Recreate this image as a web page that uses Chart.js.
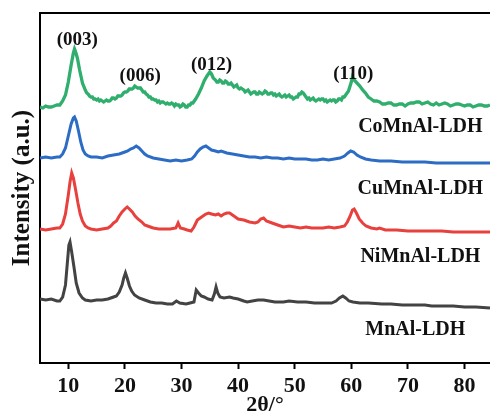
<!DOCTYPE html>
<html>
<head>
<meta charset="utf-8">
<script src="https://cdn.jsdelivr.net/npm/chart.js@4"></script>
<style>
  html, body { margin: 0; padding: 0; background: #ffffff; }
  #wrap { width: 490px; height: 417px; position: relative; }
</style>
</head>
<body>
<div id="wrap"><canvas id="c" width="490" height="417"></canvas></div>
<script>
// ---- Data (2θ in degrees, intensity in arbitrary offset units) ----
const xTicks = [10, 20, 30, 40, 50, 60, 70, 80];

const coTheta = [5,5.5,6,6.5,7,7.5,8,8.5,9,9.5,10,10.5,10.9,11.1,11.3,11.6,12,12.5,
  13,13.25,13.5,13.75,14,14.25,14.5,14.75,15,15.25,15.5,15.75,16,16.25,16.5,16.75,17,17.25,17.5,17.75,18,18.25,18.5,18.75,19,19.25,19.5,19.75,20,20.25,20.5,20.75,21,21.25,21.5,21.75,22,22.25,22.5,22.75,23,23.25,23.5,23.75,24,24.25,24.5,24.75,25,25.25,25.5,25.75,26,26.25,26.5,26.75,27,27.25,27.5,27.75,28,28.25,28.5,28.75,29,29.25,29.5,29.75,30,30.25,30.5,30.75,31,31.25,31.5,31.75,32,
  32.5,33,33.5,34,34.5,35,35.3,35.6,
  36,36.25,36.5,36.75,37,37.25,37.5,37.75,38,38.25,38.5,38.75,39,39.25,39.5,39.75,40,40.25,40.5,40.75,41,41.25,41.5,41.75,42,42.25,42.5,42.75,43,43.25,43.5,43.75,44,44.25,44.5,44.75,45,45.25,45.5,45.75,46,46.25,46.5,46.75,47,47.25,47.5,47.75,48,48.25,48.5,48.75,49,49.25,49.5,49.75,50,50.25,50.5,50.75,51,51.25,51.5,51.75,52,52.25,52.5,52.75,53,53.25,53.5,53.75,54,54.25,54.5,54.75,55,55.25,55.5,55.75,56,56.25,56.5,56.75,57,57.25,57.5,57.75,58,58.25,58.5,58.75,59,
  59.5,60,60.2,60.5,61,61.5,62,62.5,
  63,63.5,64,64.5,65,65.5,66,66.5,67,67.5,68,68.5,69,69.5,70,70.5,71,71.5,72,72.5,73,73.5,74,74.5,75,75.5,76,76.5,77,77.5,78,78.5,79,79.5,80,80.5,81,81.5,82,82.5,83,83.5,84,84.5];
const coInt = [256,255,257,256,256,257,258,258,262,268,281,298,310,314,311,305,293,280,
  273,270,269,267,266,266,264,264,263,264,262,263,262,261,262,263,262,262,263,265,265,264,265,267,267,267,268,270,271,271,272,274,274,274,275,277,276,275,275,275,273,271,271,269,268,266,266,264,264,263,263,261,262,260,261,261,260,259,260,259,259,260,259,257,259,258,258,256,257,259,258,256,256,258,258,260,260,
  264,269,275,282,287,291,289,285,
  283,281,281,283,282,280,280,282,281,279,279,280,278,276,277,278,275,274,275,274,273,271,272,273,271,269,270,271,271,269,269,271,270,269,270,272,271,269,269,270,270,268,269,267,268,269,267,266,267,268,266,267,268,266,266,264,265,266,266,269,269,271,270,268,266,264,265,263,264,265,263,262,263,264,263,264,264,262,263,261,262,263,262,263,263,261,262,264,264,263,266,266,268,
  272,281,286,283,280,277,273,270,
  266,264,262,262,261,259,259,260,260,258,258,259,259,257,259,260,260,261,261,259,260,261,259,258,260,258,259,260,259,257,258,259,259,258,257,258,258,256,257,258,258,257,257,258];

const cuTheta = [5,6,7,8,8.5,9,9.5,10,10.5,10.9,11.1,11.4,11.8,12.2,12.6,13,13.5,14,15,16,17,18,19,20,20.5,21,21.5,22,22.5,23,23.5,24,25,26,27,28,29,30,31,31.8,32.3,32.8,33.3,33.8,34.3,34.8,35.3,36,36.5,37,38,39,40,41,42,43,44,45,46,47,48,49,50,51,52,53,54,55,56,57,58,58.8,59.4,59.9,60.4,61,61.6,62.5,63.5,65,67,69,71,73,75,77,79,81,83,84.5];
const cuInt = [205,206,205,206,206,209,215,227,239,245,246,242,232,221,213,209,207,206,206,205,207,208,209,211,212,214,215,217,215,212,209,207,205,204,203,202,203,202,203,204,207,211,214,216,217,215,213,212,211,212,210,209,208,207,206,206,205,206,205,205,204,205,204,204,204,203,203,204,203,204,205,207,210,212,211,208,206,204,203,202,202,201,201,201,200,200,200,200,200,200];

const niTheta = [5,6,7,8,8.5,9,9.5,10,10.3,10.6,10.9,11.3,11.7,12.1,12.5,13,13.5,14,15,16,17,17.5,18,18.5,19,19.5,20,20.4,20.8,21.3,21.8,22.3,23,23.5,24,25,26,27,28,29,29.4,29.8,30.5,31,31.7,32.2,32.8,33.3,33.8,34.3,34.8,35.3,36,36.5,37,37.5,38,38.5,39,39.5,40,41,42,43,43.5,44,44.5,45,46,47,48,49,50,51,52,53,54,55,56,57,58,58.8,59.3,59.8,60.2,60.5,60.9,61.4,62,62.6,63.5,64.5,65,66,68,70,72,74,76,78,80,82,84.5];
const niInt = [134,133,134,135,135,139,149,168,181,190,185,173,160,149,142,137,135,134,133,134,135,137,140,142,147,151,154,156,154,151,147,144,141,138,137,135,134,134,134,135,140,135,134,133,132,136,143,145,147,149,150,149,148,149,147,149,150,150,148,146,144,143,141,140,141,144,145,142,140,138,136,137,136,135,136,135,135,135,136,135,136,137,141,147,153,154,150,144,140,137,135,134,135,133,133,132,132,132,132,131,131,131,131];

const mnTheta = [5,6,7,8,8.5,9,9.5,9.8,10.1,10.3,10.6,11,11.4,11.9,12.5,13,14,15,16,17,17.5,18,18.5,19,19.5,19.8,20.1,20.4,20.8,21.2,21.7,22.5,23.5,24.5,25.5,26.5,27.5,28.4,29.1,29.7,30.8,31.5,32.2,32.6,33,33.5,34,34.7,35.4,35.8,36.1,36.4,36.8,37.5,38.5,39.1,40,41,41.6,42.5,43.5,44.5,45.5,46.5,48,49,50.5,52,53.5,55,56.5,57.3,57.9,58.5,59,59.6,60.3,61.5,63,65.4,67,69,71,73,74.2,76,78,80,82,84.5];
const mnInt = [64,63,64,62,62,66,78,98,118,121,111,96,80,70,65,63,62,63,63,64,65,66,67,71,78,85,90,85,77,72,68,65,63,61,60,60,59,59,62,60,59,60,61,73,70,67,66,64,63,69,76,70,66,65,66,65,64,62,61,62,63,63,62,61,61,62,61,61,60,60,60,62,65,67,65,62,61,60,60,59,59,58,58,58,57,57,57,56,56,55];

const seriesNames = ['CoMnAl-LDH', 'CuMnAl-LDH', 'NiMnAl-LDH', 'MnAl-LDH'];
const seriesColors = ['#2fae6e', '#2d6cc4', '#e8403d', '#434343'];

// peak labels: text, 2θ, intensity
const peakText = ['(003)', '(006)', '(012)', '(110)'];
const peakTheta = [11.6, 22.7, 35.3, 60.35];
const peakInt = [323, 287, 298, 289];

// sample name labels
const nameTheta = [72.2, 72.2, 72.2, 71.3];
const nameInt = [236, 174, 106, 33];

function pts(xs, ys) { return xs.map((x, i) => ({ x: x, y: ys[i] })); }

const thetas = [coTheta, cuTheta, niTheta, mnTheta];
const ints = [coInt, cuInt, niInt, mnInt];

const datasets = seriesNames.map((n, i) => ({
  label: n,
  data: pts(thetas[i], ints[i]),
  borderColor: seriesColors[i],
  borderWidth: i === 0 ? 3.3 : 3,
  pointRadius: 0,
  tension: 0,
  showLine: true,
  fill: false
}));

const SERIF = '"Liberation Serif", "Times New Roman", serif';

const textPlugin = {
  id: 'textPlugin',
  afterDraw(chart) {
    const ctx = chart.ctx;
    const xs = chart.scales.x, ys = chart.scales.y;
    const ca = chart.chartArea;
    ctx.save();
    // top frame line
    ctx.strokeStyle = '#000';
    ctx.lineWidth = 2;
    ctx.beginPath();
    ctx.moveTo(ca.left - 1, ca.top);
    ctx.lineTo(chart.width, ca.top);
    ctx.stroke();

    ctx.fillStyle = '#111';
    ctx.textAlign = 'center';
    ctx.textBaseline = 'middle';
    ctx.font = 'bold 19px ' + SERIF;
    peakText.forEach((t, i) => {
      ctx.fillText(t, xs.getPixelForValue(peakTheta[i]), ys.getPixelForValue(peakInt[i]));
    });
    ctx.font = 'bold 20px ' + SERIF;
    seriesNames.forEach((t, i) => {
      ctx.fillText(t, xs.getPixelForValue(nameTheta[i]), ys.getPixelForValue(nameInt[i]));
    });
    ctx.restore();
  }
};

new Chart(document.getElementById('c'), {
  type: 'scatter',
  data: { datasets: datasets },
  options: {
    responsive: false,
    animation: false,
    devicePixelRatio: 1,
    layout: { padding: { top: 13, right: 0, left: 0, bottom: 0 } },
    plugins: { legend: { display: false }, tooltip: { enabled: false } },
    scales: {
      x: {
        type: 'linear',
        min: 5,
        max: 84.5,
        afterBuildTicks(scale) { scale.ticks = xTicks.map(v => ({ value: v })); },
        afterFit(scale) { scale.height = 54; },
        ticks: {
          color: '#111',
          font: { family: SERIF, size: 22, weight: 'bold' },
          padding: 4,
          maxRotation: 0,
          autoSkip: false
        },
        grid: { display: true, drawOnChartArea: false, drawTicks: true, tickLength: 6, tickWidth: 2, tickColor: '#000' },
        border: { display: true, color: '#000', width: 2 },
        title: {
          display: true,
          text: '2θ/°',
          color: '#111',
          font: { family: SERIF, size: 22, weight: 'bold', lineHeight: 1.0 },
          padding: { top: 0, bottom: 1 }
        }
      },
      y: {
        type: 'linear',
        min: 0,
        max: 350,
        afterFit(scale) { scale.width = 40; },
        ticks: { display: false },
        grid: { display: false, drawTicks: false },
        border: { display: true, color: '#000', width: 2 },
        title: {
          display: true,
          text: 'Intensity (a.u.)',
          color: '#111',
          font: { family: SERIF, size: 25, weight: 'bold', lineHeight: 1.0 },
          padding: { top: 10, bottom: 0 }
        }
      }
    }
  },
  plugins: [textPlugin]
});
</script>
</body>
</html>
